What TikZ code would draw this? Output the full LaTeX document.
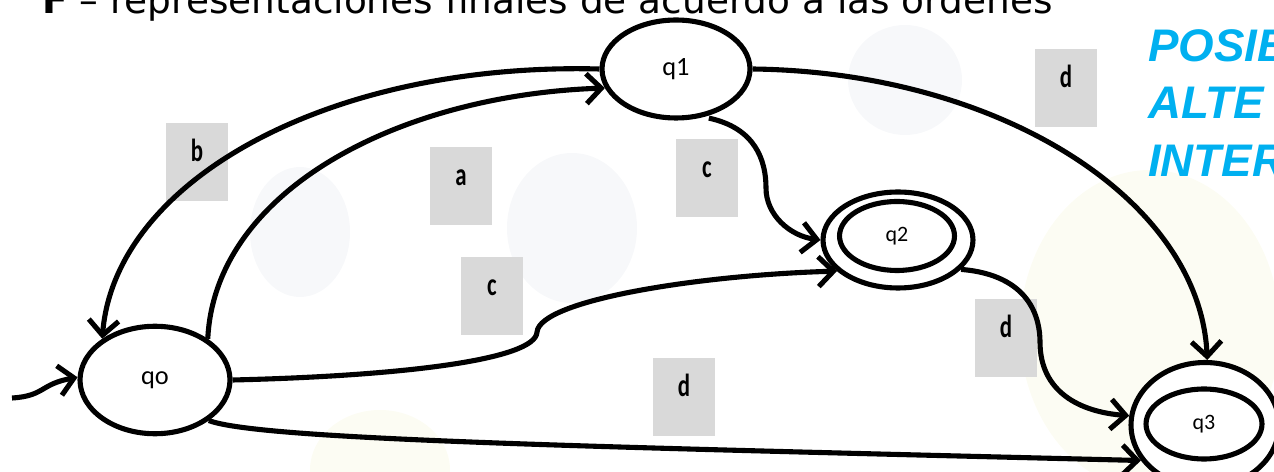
\documentclass[tikz,border=0pt]{standalone}
\usepackage{fontspec}
\setmainfont{Carlito}
\newfontfamily\verdanafont{DejaVu Sans}
\newfontfamily\arialfont{Liberation Sans}
\usetikzlibrary{arrows.meta,shapes.geometric,positioning}
\definecolor{slideblue}{RGB}{0,176,240}
\definecolor{boxgray}{RGB}{217,217,217}
\definecolor{blobgray}{RGB}{247,248,250}
\definecolor{blobyellow}{RGB}{252,252,243}
\newcommand{\tall}[1]{\scalebox{1}[1.4]{#1}}

\begin{document}
\begin{tikzpicture}[x=0.02cm,y=-0.02cm,
  state/.style={draw,ellipse,line width=2.9pt,inner sep=0pt,fill=white},
  lbl/.style={fill=boxgray,minimum width=1.24cm,minimum height=1.58cm,inner sep=0pt,
    text height=0pt,text depth=0pt,font=\fontsize{13}{13}\selectfont\bfseries},
  arr/.style={line width=2.9pt,-{Straight Barb[length=8.5pt,width=17pt]}},
  slide/.style={anchor=base west,text=slideblue,font=\arialfont\bfseries\itshape\fontsize{26}{26}\selectfont}]
  \useasboundingbox (0,0) rectangle (1274,472);
  \clip (0,0) rectangle (1274,472);
  \fill[blobgray] (300,232) ellipse [x radius=50,y radius=65];
  \fill[blobgray] (572,228) ellipse [x radius=65,y radius=75];
  \fill[blobgray] (905,80) ellipse [x radius=57,y radius=55];
  \fill[blobyellow] (380,470) ellipse [x radius=70,y radius=60];
  \fill[blobyellow] (1150,330) ellipse [x radius=130,y radius=160];

  \node[anchor=base west,font=\verdanafont\fontsize{21.3}{21.3}\selectfont] (title) at (36,14)
    {\textbf{F} – representaciones finales de acuerdo a las órdenes};
  \node[slide] (pos) at (1142,62) {POSIB};
  \node[slide] (alt) at (1142,119) {ALTE};
  \node[slide] (int) at (1142,177) {INTER};

  \node[lbl] (lb) at (197,162) {\tall{b}};
  \node[lbl] (la) at (461,186) {\tall{a}};
  \node[lbl] (lc1) at (707,178) {\tall{c}};
  \node[lbl] (lc2) at (492,296) {\tall{c}};
  \node[lbl] (ld1) at (1066,88) {\tall{d}};
  \node[lbl] (ld2) at (1006,338) {\tall{d}};
  \node[lbl] (ld3) at (684,397) {\tall{d}};

  \node[state,minimum width=3.0cm,minimum height=2.15cm,font=\fontsize{15}{15}\selectfont] (qo) at (155,380) {qo};
  \node[state,minimum width=2.96cm,minimum height=1.96cm,font=\fontsize{15}{15}\selectfont] (q1) at (676,69) {q1};
  \node[state,minimum width=3.0cm,minimum height=1.92cm] (q2) at (898,240) {};
  \node[state,minimum width=2.3cm,minimum height=1.38cm,font=\fontsize{12.5}{12.5}\selectfont] (q2in) at (897,236) {q2};
  \node[state,minimum width=2.96cm,minimum height=2.5cm] (q3) at (1205,425) {};
  \node[state,minimum width=2.32cm,minimum height=1.4cm,font=\fontsize{12.5}{12.5}\selectfont] (q3in) at (1204,424) {q3};

  \coordinate (start) at (12,398);
  \draw[arr] (start) .. controls (45,396) and (40,384) .. (qo.178);
  \draw[arr] (q1.180) .. controls (330,62) and (115,180) .. (qo.142);
  \draw[arr] (qo.38) .. controls (215,190) and (400,95) .. (q1.195);
  \draw[arr,shorten <=3pt] (q1.-60) .. controls (755,128) and (766,160) .. (766,188)
    .. controls (766,215) and (790,236) .. (q2.180);
  \draw[arr] (qo.0) .. controls (400,376) and (536,360) .. (537,332)
    .. controls (540,300) and (700,275) .. (q2.207);
  \draw[arr] (qo.-37) .. controls (260,440) and (600,447) .. (q3.209);
  \draw[arr] (q2.-25) .. controls (1030,275) and (1040,318) .. (1040,342)
    .. controls (1040,392) and (1080,412) .. (q3.173);
  \draw[arr] (q1.0) .. controls (1000,72) and (1200,200) .. (q3.88);
\end{tikzpicture}
\end{document}
